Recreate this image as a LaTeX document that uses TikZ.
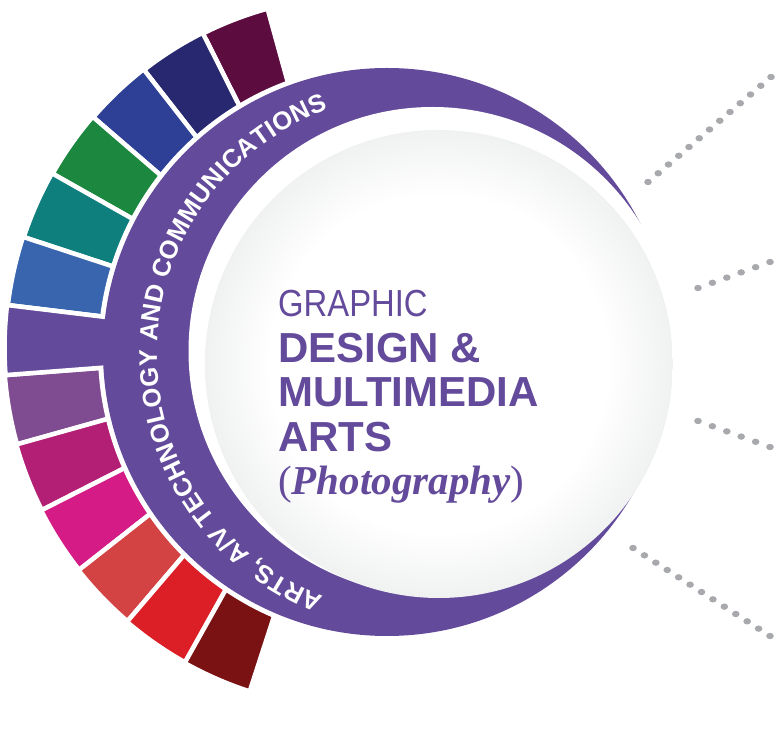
\documentclass[tikz,border=0pt]{standalone}
\usepackage{graphicx}
\usepackage{fontspec}
\setmainfont{Liberation Serif}
\setsansfont{Liberation Sans}
\usetikzlibrary{decorations.text,calc}

\definecolor{ringpurple}{HTML}{634A9B}
\definecolor{segmaroon}{HTML}{5C0C3F}
\definecolor{segnavy}{HTML}{27286F}
\definecolor{segroyal}{HTML}{2E4096}
\definecolor{seggreen}{HTML}{1B873F}
\definecolor{segteal}{HTML}{0E7F7C}
\definecolor{segsky}{HTML}{3865AE}
\definecolor{segmauve}{HTML}{804C91}
\definecolor{segplum}{HTML}{B21F74}
\definecolor{segmagenta}{HTML}{D51B86}
\definecolor{segcoral}{HTML}{D44343}
\definecolor{segred}{HTML}{DC1F26}
\definecolor{segdark}{HTML}{7A1214}
\definecolor{dotgray}{HTML}{A7A9AC}
\definecolor{diskgray}{HTML}{F0F1F1}

\pgfdeclareradialshading{diskshade}{\pgfpoint{0bp}{0bp}}{color(0bp)=(white); color(18bp)=(white); color(25bp)=(diskgray); color(50bp)=(diskgray)}

\begin{document}
\begin{tikzpicture}[x=1pt,y=1pt,
    seg/.style={draw=white, line width=4.5pt},
    bigtext/.style={text=ringpurple, anchor=base west, inner sep=0pt},
    leader/.style={fill=dotgray}]
\useasboundingbox (0,0) rectangle (776,734);

% centres
\coordinate (O) at (361,386);
\coordinate (A) at (387,382);
\coordinate (Wc) at (432.5,383);
\coordinate (Gc) at (438.8,370);
\coordinate (T) at (417,380);

% colour segments
\foreach \c [count=\i from 0] in {segmaroon,segnavy,segroyal,seggreen,segteal,segsky,ringpurple,segmauve,segplum,segmagenta,segcoral,segred,segdark}{
  \pgfmathsetmacro{\a}{105.4+11.28*\i}
  \pgfmathsetmacro{\b}{\a+11.28}
  \pgfmathsetmacro{\r}{352+9*\i/12}
  \path[fill=\c, seg] (O) -- ++(\a:\r) arc[start angle=\a, end angle=\b, radius=\r] -- cycle;
}
\fill[white] (A) circle (289);
% purple tab joins the ring
\path[fill=ringpurple, seg] (O) -- ++(173.08:356.5) arc[start angle=173.08, end angle=184.36, radius=356.5] -- cycle;

% ring and disks
\fill[ringpurple] (A) circle (284);
\fill[white] (Wc) circle (244);
\shade[shading=diskshade] (Gc) circle (234);

% ring label
\path[decorate, decoration={text along path, text align=fit to path,
    text={|\sffamily\bfseries\fontsize{25.5}{25.5}\selectfont\color{white}|ARTS, A/V TECHNOLOGY AND COMMUNICATIONS}}]
  ([shift={(249:260)}]T) arc[start angle=249, end angle=110, radius=260];

% title
\node[bigtext, font=\sffamily\fontsize{37.7}{37.7}\selectfont] (graphic) at (278,417) {\scalebox{0.87}[1]{GRAPHIC}};
\node[bigtext, font=\sffamily\bfseries\fontsize{42}{42}\selectfont] (design) at (278,371) {DESIGN \&};
\node[bigtext, font=\sffamily\bfseries\fontsize{42}{42}\selectfont] (multimedia) at (278,327) {MULTIMEDIA};
\node[bigtext, font=\sffamily\bfseries\fontsize{42}{42}\selectfont] (arts) at (278,282) {ARTS};
\node[bigtext, font=\fontsize{41}{41}\selectfont] (photo) at (278,239) {(\textbf{\textit{Photography}})};

% dotted leaders
\coordinate (d1a) at (648,552);
\coordinate (d1b) at (771,657);
\coordinate (d2a) at (698,446);
\coordinate (d2b) at (770,472);
\coordinate (d3a) at (698,313);
\coordinate (d3b) at (770,287);
\coordinate (d4a) at (633,186);
\coordinate (d4b) at (770,98);
\foreach \s/\e/\n in {d1a/d1b/12,d2a/d2b/5,d3a/d3b/5,d4a/d4b/12}
  \foreach \k in {0,...,\n}
    \fill[leader] ($(\s)!\k/\n!(\e)$) ellipse [x radius=3.8, y radius=3.2];
\end{tikzpicture}
\end{document}
